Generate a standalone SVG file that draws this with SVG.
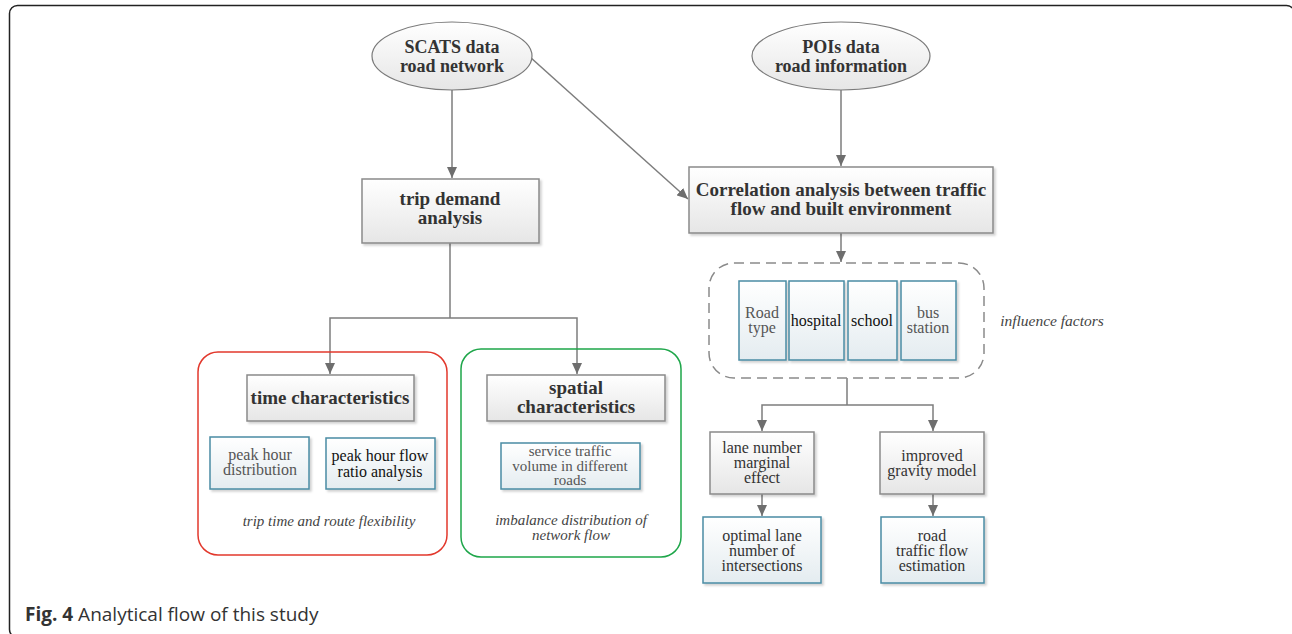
<svg xmlns="http://www.w3.org/2000/svg" width="1292" height="634" viewBox="0 0 1292 634">
<style>
.t{font-family:"Liberation Serif","Times New Roman",serif;fill:#333;text-anchor:middle}
.bd{font-weight:bold;font-size:19px}
.el-t{font-size:18px}
.rg{font-size:16px}
.it{font-style:italic;font-size:15px;fill:#444}
.gb{fill:url(#gGray);stroke:#8a8a8a;stroke-width:1.5;filter:url(#sh)}
.bb{fill:url(#gBlue);stroke:#4a8ca4;stroke-width:1.5;filter:url(#sh)}
.el{fill:url(#gGray);stroke:#7a7a7a;stroke-width:1.2}
.cn{fill:none;stroke:#7d7d7d;stroke-width:1.5}
.cap{font-family:"Open Sans","Noto Sans",sans-serif;font-size:19px;fill:#333}
</style>
<defs>
<linearGradient id="gGray" x1="0" y1="0" x2="0" y2="1">
<stop offset="0" stop-color="#ffffff"/>
<stop offset="1" stop-color="#e6e6e6"/>
</linearGradient>
<linearGradient id="gBlue" x1="0" y1="0" x2="0" y2="1">
<stop offset="0" stop-color="#ffffff"/>
<stop offset="1" stop-color="#e4ecf0"/>
</linearGradient>
<filter id="sh" x="-10%" y="-10%" width="130%" height="130%">
<feDropShadow dx="2" dy="2" stdDeviation="1" flood-color="#000" flood-opacity="0.18"/>
</filter>
<marker id="ar" markerUnits="userSpaceOnUse" markerWidth="12" markerHeight="10" refX="11" refY="5" orient="auto">
<path d="M0,0 L11,5 L0,10 Z" fill="#6e6e6e"/>
</marker>
</defs>
<rect x="9.5" y="5.5" width="1285" height="632" rx="8" fill="none" stroke="#222" stroke-width="1.5"/>

<g id="connectors">
<line class="cn" x1="452" y1="90" x2="452" y2="178" marker-end="url(#ar)"/>
<line class="cn" x1="530" y1="57" x2="688" y2="199" marker-end="url(#ar)"/>
<line class="cn" x1="841" y1="90" x2="841" y2="166" marker-end="url(#ar)"/>
<polyline class="cn" points="450,243 450,318"/>
<polyline class="cn" points="450,318 330,318 330,374" marker-end="url(#ar)"/>
<polyline class="cn" points="450,318 577,318 577,374" marker-end="url(#ar)"/>
<line class="cn" x1="841" y1="233" x2="841" y2="262" marker-end="url(#ar)"/>
<polyline class="cn" points="847,378 847,405"/>
<polyline class="cn" points="847,405 762,405 762,431" marker-end="url(#ar)"/>
<polyline class="cn" points="847,405 933,405 933,431" marker-end="url(#ar)"/>
<line class="cn" x1="762" y1="494" x2="762" y2="516" marker-end="url(#ar)"/>
<line class="cn" x1="933" y1="494" x2="933" y2="516" marker-end="url(#ar)"/>
</g>

<g id="scats">
<ellipse class="el" cx="452" cy="56" rx="80" ry="34"/>
<text class="t bd el-t" x="452" y="53">SCATS data</text>
<text class="t bd el-t" x="452" y="72">road network</text>
</g>
<g id="pois">
<ellipse class="el" cx="841" cy="56" rx="89" ry="34"/>
<text class="t bd el-t" x="841" y="53">POIs data</text>
<text class="t bd el-t" x="841" y="72">road information</text>
</g>
<g id="trip">
<rect class="gb" x="362" y="179" width="177" height="64"/>
<text class="t bd" x="450" y="205">trip demand</text>
<text class="t bd" x="450" y="224">analysis</text>
</g>
<g id="corr">
<rect class="gb" x="689" y="167" width="304" height="66"/>
<text class="t bd" x="841" y="196">Correlation analysis between traffic</text>
<text class="t bd" x="841" y="215">flow and built environment</text>
</g>

<g id="time-group">
<rect x="198" y="352" width="249" height="203" rx="20" fill="none" stroke="#e2382c" stroke-width="1.5"/>
<text class="t it" x="329" y="526">trip time and route flexibility</text>
</g>
<g id="time">
<rect class="gb" x="247" y="375" width="167" height="46"/>
<text class="t bd" x="330" y="404">time characteristics</text>
</g>
<g id="peak1">
<rect class="bb" x="210" y="437" width="99" height="52"/>
<text class="t rg" x="260" y="460" style="fill:#555">peak hour</text>
<text class="t rg" x="260" y="475" style="fill:#555">distribution</text>
</g>
<g id="peak2">
<rect class="bb" x="326" y="438" width="109" height="51"/>
<text class="t rg" x="380" y="461" style="fill:#111">peak hour flow</text>
<text class="t rg" x="380" y="477" style="fill:#111">ratio analysis</text>
</g>

<g id="spatial-group">
<rect x="461" y="349" width="220" height="208" rx="20" fill="none" stroke="#1ea64a" stroke-width="1.5"/>
<text class="t it" x="571" y="525">imbalance distribution of</text>
<text class="t it" x="571" y="540">network flow</text>
</g>
<g id="spatial">
<rect class="gb" x="487" y="375" width="178" height="46"/>
<text class="t bd" x="576" y="394">spatial</text>
<text class="t bd" x="576" y="413">characteristics</text>
</g>
<g id="service">
<rect class="bb" x="501" y="443" width="139" height="46"/>
<text class="t" x="570" y="456" style="fill:#555;font-size:15px">service traffic</text>
<text class="t" x="570" y="470.5" style="fill:#555;font-size:15px">volume in different</text>
<text class="t" x="570" y="485" style="fill:#555;font-size:15px">roads</text>
</g>

<g id="factors">
<rect x="709" y="263" width="275" height="115" rx="25" fill="none" stroke="#8a8a8a" stroke-width="1.5" stroke-dasharray="10,6"/>
<text class="t it" x="1052" y="326" style="font-size:15.5px">influence factors</text>
</g>
<g id="roadtype">
<rect class="bb" x="739" y="281" width="47" height="79"/>
<text class="t rg" x="762" y="318" style="fill:#555">Road</text>
<text class="t rg" x="762" y="333" style="fill:#555">type</text>
</g>
<g id="hospital">
<rect class="bb" x="789" y="281" width="55" height="79"/>
<text class="t rg" x="816" y="326" style="fill:#111">hospital</text>
</g>
<g id="school">
<rect class="bb" x="848" y="281" width="49" height="79"/>
<text class="t rg" x="872" y="326" style="fill:#111">school</text>
</g>
<g id="bus">
<rect class="bb" x="901" y="281" width="55" height="79"/>
<text class="t rg" x="928" y="318" style="fill:#555">bus</text>
<text class="t rg" x="928" y="333" style="fill:#555">station</text>
</g>

<g id="lane">
<rect class="gb" x="710" y="432" width="104" height="62"/>
<text class="t rg" x="762" y="453">lane number</text>
<text class="t rg" x="762" y="468">marginal</text>
<text class="t rg" x="762" y="483">effect</text>
</g>
<g id="gravity">
<rect class="gb" x="880" y="432" width="104" height="62"/>
<text class="t rg" x="932" y="461">improved</text>
<text class="t rg" x="932" y="476">gravity model</text>
</g>
<g id="optimal">
<rect class="bb" x="703" y="517" width="118" height="66"/>
<text class="t rg" x="762" y="541">optimal lane</text>
<text class="t rg" x="762" y="556">number of</text>
<text class="t rg" x="762" y="571">intersections</text>
</g>
<g id="roadflow">
<rect class="bb" x="881" y="517" width="103" height="66"/>
<text class="t rg" x="932" y="541">road</text>
<text class="t rg" x="932" y="556">traffic flow</text>
<text class="t rg" x="932" y="571">estimation</text>
</g>

<text class="cap" x="25" y="621"><tspan font-weight="bold">Fig. 4</tspan> Analytical flow of this study</text>
</svg>
